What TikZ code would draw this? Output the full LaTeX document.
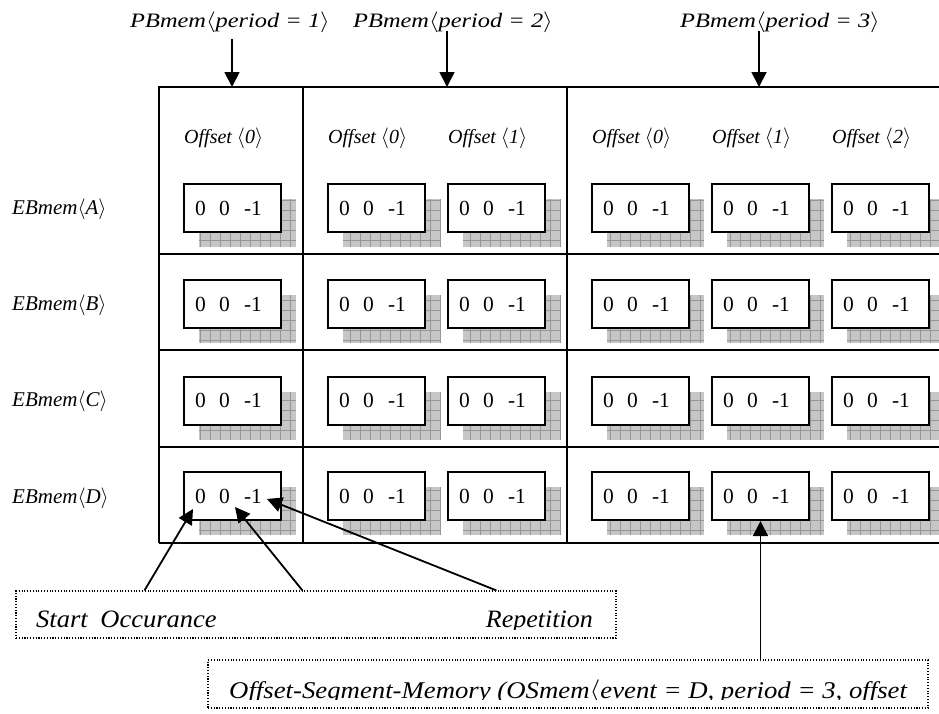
\documentclass[tikz,border=0pt]{standalone}
\usepackage{fontspec}
\setmainfont{Liberation Serif}
\usetikzlibrary{arrows.meta,calc}

\definecolor{shadowfill}{RGB}{198,198,198}
\definecolor{shadowline}{RGB}{150,150,150}

\newcommand{\lang}{\ensuremath{\langle}}
\newcommand{\rang}{\ensuremath{\rangle}}
\newcommand{\cellval}{0\hspace{13.5pt}0\hspace{14pt}-1}
\newcommand{\wide}[2]{\scalebox{#1}[1]{#2}}

\begin{document}
\begin{tikzpicture}[x=1pt,y=-1pt,
  gridline/.style={line width=2pt},
  cellbox/.style={draw, line width=2pt, fill=white, anchor=north west,
    minimum width=97pt, minimum height=48pt, inner xsep=11pt, inner ysep=0pt,
    text width=75pt, align=left, font=\fontsize{21.5}{24}\selectfont},
  shadowgrid/.style={draw=shadowline, line width=0.6pt},
  toplab/.style={anchor=base, inner sep=0pt, font=\itshape\fontsize{20.5}{24}\selectfont},
  sidelab/.style={anchor=base west, inner sep=0pt, font=\itshape\fontsize{21}{24}\selectfont},
  offlab/.style={anchor=base west, inner sep=0pt, font=\itshape\fontsize{20}{24}\selectfont},
  legend/.style={draw, line width=1.1pt, dash pattern=on 1.1pt off 1.7pt, inner sep=0pt},
  legtext/.style={inner sep=0pt, font=\itshape\fontsize{25}{28}\selectfont},
  legtextb/.style={inner sep=0pt, font=\itshape\fontsize{24}{28}\selectfont},
  arr/.style={line width=1.8pt, -{Triangle[length=15pt,width=15pt]}}
]
\useasboundingbox (0,0) rectangle (939,713);

% header labels for the period blocks
\node[toplab] (pb1) at (230,27) {\wide{1.19}{PBmem\lang period = 1\rang}};
\node[toplab] (pb2) at (453,27) {\wide{1.19}{PBmem\lang period = 2\rang}};
\node[toplab] (pb3) at (780,27) {\wide{1.19}{PBmem\lang period = 3\rang}};

% table frame
\draw[gridline] (939,87) -- (159,87) -- (159,543);
\draw[gridline] (303,87) -- (303,543);
\draw[gridline] (567,87) -- (567,543);
\foreach \ly in {254,350.33,446.67,543}
  \draw[gridline] (159,\ly) -- (939,\ly);

% offset headings
\foreach \bx/\k in {183/0, 327/0, 447/1, 591/0, 711/1, 831/2}
  \node[offlab] at (\bx+1,143) {Offset \lang\k\rang};

% event rows
\foreach \r/\by in {A/214, B/310.33, C/406.67, D/503}
  \node[sidelab] (eb-\r) at (12,\by) {EBmem\lang\r\rang};

% memory cells with their shadows
\foreach \r/\ry in {A/183, B/279.33, C/375.67, D/471} {
  \foreach \c/\bx in {10/183, 20/327, 21/447, 30/591, 31/711, 32/831} {
    \fill[shadowfill] (\bx+16,\ry+16) rectangle ++(97,48);
    \draw[shadowgrid] (\bx+16,\ry+16) grid[step=10pt] ++(97,48);
    \node[cellbox] (m-\r-\c) at (\bx,\ry) {\cellval};
  }
}

% arrows from period labels into the table
\coordinate (p1s) at (232,39);
\coordinate (p2s) at (447,31);
\coordinate (p3s) at (759,31);
\coordinate (p1e) at (232,87);
\coordinate (p2e) at (447,87);
\coordinate (p3e) at (759,87);
\draw[arr] (p1s) -- (p1e);
\draw[arr] (p2s) -- (p2e);
\draw[arr] (p3s) -- (p3e);

% legend for the cell fields
\node[legend, minimum width=600pt, minimum height=47pt] (leg1) at (316,614.5) {};
\begin{scope}
  \clip (16,591) rectangle (616,629);
  \node[legtext, anchor=base west] (t-start) at (36,627) {\wide{1.06}{Start\hspace{12pt}Occurance}};
  \node[legtext, anchor=base east] (t-rep) at (593,627) {\wide{1.04}{Repetition}};
\end{scope}
\draw[arr] ($(leg1.north west)+(129,0)$) -- ($(m-D-10.south west)+(10,-12)$);
\draw[arr] ($(leg1.north west)+(287,0)$) -- ($(m-D-10.south west)+(52,-14)$);
\draw[arr] ($(leg1.north west)+(481,0)$) -- ($(m-D-10.south west)+(84,-22)$);

% legend for a single offset segment
\node[legend, minimum width=720pt, minimum height=48pt] (leg2) at (568,684) {};
\begin{scope}
  \clip (208,660) rectangle (928,699.5);
  \node[legtextb, anchor=base west] (t-os) at (229,698)
    {\wide{1.115}{Offset-Segment-Memory (OSmem\lang event = D, period = 3, offset}};
\end{scope}
\draw[arr] (leg2.north -| m-D-31.south) -- (m-D-31.south);
\end{tikzpicture}
\end{document}
